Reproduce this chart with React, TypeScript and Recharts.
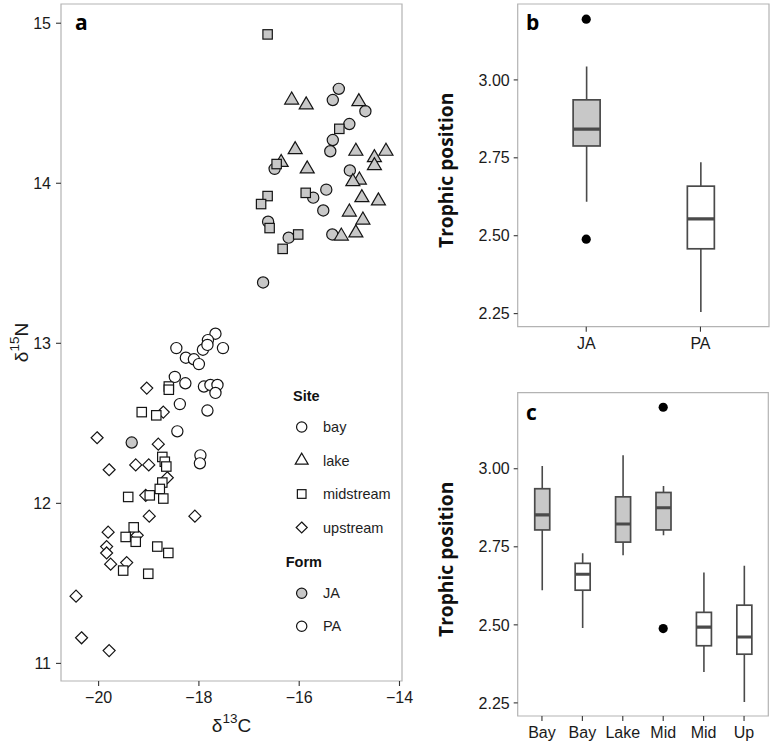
import React from 'react';
import {
  ScatterChart,
  Scatter,
  ComposedChart,
  Bar,
  XAxis,
  YAxis,
  Legend,
  ReferenceArea,
  Label,
} from 'recharts';

// ---------- Panel a: stable isotopes [δ13C, δ15N] ----------
const jaBay: [number, number][] = [
  [-15.21, 14.59], [-15.33, 14.52], [-14.68, 14.45], [-15.0, 14.37], [-15.33, 14.27],
  [-15.38, 14.2], [-16.49, 14.09], [-14.99, 14.08], [-15.46, 13.96], [-15.72, 13.91],
  [-15.52, 13.83], [-16.62, 13.76], [-15.34, 13.68], [-16.21, 13.66], [-16.72, 13.38],
  [-19.34, 12.38],
];
const jaLake: [number, number][] = [
  [-16.15, 14.52], [-15.86, 14.49], [-14.81, 14.51], [-16.08, 14.21], [-16.36, 14.13],
  [-15.84, 14.09], [-14.87, 14.2], [-14.27, 14.2], [-14.5, 14.16], [-14.5, 14.11],
  [-14.8, 14.02], [-14.93, 14.01], [-14.75, 13.91], [-14.42, 13.89], [-15.0, 13.82],
  [-14.73, 13.77], [-14.87, 13.69], [-15.16, 13.67],
];
const jaMidstream: [number, number][] = [
  [-16.63, 14.93], [-15.2, 14.34], [-16.45, 14.12], [-16.63, 13.92], [-16.76, 13.87],
  [-15.87, 13.94], [-16.59, 13.72], [-16.02, 13.68], [-16.33, 13.59],
];
const paBay: [number, number][] = [
  [-17.67, 13.06], [-17.82, 13.02], [-17.92, 12.96], [-17.83, 12.99], [-18.45, 12.97],
  [-17.52, 12.97], [-18.26, 12.91], [-18.1, 12.9], [-18.0, 12.87], [-18.48, 12.79],
  [-18.27, 12.75], [-17.9, 12.73], [-17.77, 12.74], [-17.63, 12.74], [-17.67, 12.69],
  [-18.38, 12.62], [-17.83, 12.58], [-18.43, 12.45], [-17.97, 12.3], [-17.98, 12.25],
];
const paMidstream: [number, number][] = [
  [-18.6, 12.73], [-18.6, 12.71], [-19.14, 12.57], [-18.85, 12.55], [-18.73, 12.29],
  [-18.68, 12.26], [-18.65, 12.23], [-18.73, 12.13], [-18.78, 12.09], [-18.98, 12.05],
  [-18.71, 12.03], [-19.41, 12.04], [-19.3, 11.85], [-19.46, 11.79], [-19.26, 11.76],
  [-18.83, 11.73], [-18.61, 11.69], [-19.51, 11.58], [-19.01, 11.56],
];
const paUpstream: [number, number][] = [
  [-19.04, 12.72], [-18.71, 12.57], [-20.03, 12.41], [-18.81, 12.37], [-19.79, 12.21],
  [-19.26, 12.24], [-19.0, 12.24], [-18.63, 12.16], [-19.06, 12.05], [-18.99, 11.92],
  [-18.08, 11.92], [-19.81, 11.82], [-19.23, 11.8], [-19.84, 11.73], [-19.84, 11.69],
  [-19.76, 11.62], [-19.44, 11.63], [-20.45, 11.42], [-20.34, 11.16], [-19.79, 11.08],
];
const d13cTicks = [-20, -18, -16, -14];
const d15nTicks = [11, 12, 13, 14, 15];
const siteLegend = ['bay', 'lake', 'midstream', 'upstream'];
const formLegend = ['JA', 'PA'];

// ---------- Panel b: trophic position by form ----------
const formCategories = ['JA', 'PA'];
const formLow = [2.609, 2.255];
const formQ1 = [2.788, 2.458];
const formMedian = [2.842, 2.554];
const formQ3 = [2.936, 2.659];
const formHigh = [3.043, 2.736];
const formOutliers: number[][] = [[3.195, 2.489], []];

// ---------- Panel c: trophic position by form x site ----------
const siteCategories = ['Bay', 'Bay', 'Lake', 'Mid', 'Mid', 'Up'];
const siteForms = ['JA', 'PA', 'JA', 'JA', 'PA', 'PA'];
const siteLow = [2.611, 2.49, 2.723, 2.787, 2.349, 2.253];
const siteQ1 = [2.804, 2.611, 2.765, 2.804, 2.433, 2.406];
const siteMedian = [2.852, 2.662, 2.823, 2.875, 2.493, 2.461];
const siteQ3 = [2.936, 2.697, 2.91, 2.924, 2.54, 2.563];
const siteHigh = [3.009, 2.729, 3.043, 2.945, 2.668, 2.689];
const siteOutliers: number[][] = [[], [], [], [3.197, 2.488], [], []];
const tpTicks = [2.25, 2.5, 2.75, 3.0];

// ---------- styling ----------
const FONT = '"Liberation Sans", Arial, Helvetica, sans-serif';
const BOLD_FONT = '"Open Sans", "Liberation Sans", sans-serif';
const JA_FILL = '#c8c8c8';
const PA_FILL = '#ffffff';
const POINT_STROKE = '#141414';
const BOX_LINE = '#4a4a4a';
const BORDER = '#b3b3b3';
const TICK_LINE = { stroke: '#333333', strokeWidth: 1.1 };
const TICK_TEXT = { fill: '#1a1a1a', fontSize: 16, fontFamily: FONT };

const toPoints = (arr: [number, number][]) => arr.map(([x, y]) => ({ x, y }));
const minus = (v: number) => String(v).replace('-', '\u2212');

function Marker({ cx, cy, kind, fill, k = 1 }: any) {
  const common = { fill, stroke: POINT_STROKE, strokeWidth: 1.2 };
  if (kind === 'circle') return <circle cx={cx} cy={cy} r={5.6 * k} {...common} />;
  if (kind === 'square') {
    const h = 4.7 * k;
    return <rect x={cx - h} y={cy - h} width={2 * h} height={2 * h} {...common} />;
  }
  if (kind === 'triangle') {
    const w = 7 * k;
    const ht = 12 * k;
    const pts = `${cx},${cy - (ht * 2) / 3} ${cx - w},${cy + ht / 3} ${cx + w},${cy + ht / 3}`;
    return <polygon points={pts} {...common} strokeLinejoin="miter" />;
  }
  const r = 6 * k;
  const pts = `${cx},${cy - r} ${cx + r},${cy} ${cx},${cy + r} ${cx - r},${cy}`;
  return <polygon points={pts} {...common} />;
}

const shapeOf = (kind: string, fill: string) => (p: any) => (
  <Marker cx={p.cx} cy={p.cy} kind={kind} fill={fill} />
);

function LegendA() {
  const kinds = ['circle', 'triangle', 'square', 'diamond'];
  const textStyle = { fontFamily: FONT, fontSize: 14.5, fill: '#1e1e1e' };
  const titleStyle = { fontFamily: FONT, fontSize: 14.5, fontWeight: 700, fill: '#111' };
  return (
    <svg width={130} height={260} style={{ overflow: 'visible' }}>
      <text x={10} y={18} {...titleStyle}>Site</text>
      {siteLegend.map((s, i) => (
        <g key={s}>
          <Marker cx={18.7} cy={44 + i * 33.5} kind={kinds[i]} fill={PA_FILL} k={0.92} />
          <text x={40} y={44 + i * 33.5 + 5} {...textStyle}>{s}</text>
        </g>
      ))}
      <text x={2.7} y={184} {...titleStyle}>Form</text>
      {formLegend.map((f, i) => (
        <g key={f}>
          <Marker cx={18.7} cy={210.3 + i * 33} kind="circle" fill={i === 0 ? JA_FILL : PA_FILL} k={0.92} />
          <text x={40} y={210.3 + i * 33 + 5} {...textStyle}>{f}</text>
        </g>
      ))}
    </svg>
  );
}

function XLabelA({ viewBox }: any) {
  const cx = viewBox.x + viewBox.width / 2;
  const y = viewBox.y + 51;
  return (
    <text x={cx} y={y} textAnchor="middle" fontFamily={FONT} fontSize={19} fill="#1a1a1a">
      δ<tspan dy={-9} fontSize={13.5}>13</tspan><tspan dy={9}>C</tspan>
    </text>
  );
}

function YLabelA({ viewBox }: any) {
  const cx = viewBox.x + 2;
  const cy = viewBox.y + viewBox.height / 2;
  return (
    <text
      transform={`translate(${cx},${cy}) rotate(-90)`}
      textAnchor="middle"
      fontFamily={FONT}
      fontSize={19}
      fill="#1a1a1a"
    >
      δ<tspan dy={-9} fontSize={13.5}>15</tspan><tspan dy={9}>N</tspan>
    </text>
  );
}

function TrophicLabel({ viewBox }: any) {
  const cx = viewBox.x - 5;
  const cy = viewBox.y + viewBox.height / 2 + 5;
  return (
    <text
      transform={`translate(${cx},${cy}) rotate(-90)`}
      textAnchor="middle"
      fontFamily={BOLD_FONT}
      fontWeight={700}
      fontSize={19.2}
      fill="#111"
    >
      Trophic position
    </text>
  );
}

function BoxShape(props: any) {
  const { x, y, width, height, payload } = props;
  const [low, high] = payload.range;
  const top = Math.min(y, y + height);
  const ppu = Math.abs(height) / (high - low);
  const yOf = (v: number) => top + (high - v) * ppu;
  const cx = x + width / 2;
  const fill = payload.form === 'JA' ? JA_FILL : PA_FILL;
  return (
    <g>
      <line x1={cx} x2={cx} y1={yOf(high)} y2={yOf(payload.q3)} stroke={BOX_LINE} strokeWidth={1.6} />
      <line x1={cx} x2={cx} y1={yOf(payload.q1)} y2={yOf(low)} stroke={BOX_LINE} strokeWidth={1.6} />
      <rect
        x={x}
        y={yOf(payload.q3)}
        width={width}
        height={yOf(payload.q1) - yOf(payload.q3)}
        fill={fill}
        stroke={BOX_LINE}
        strokeWidth={1.7}
      />
      <line
        x1={x}
        x2={x + width}
        y1={yOf(payload.median)}
        y2={yOf(payload.median)}
        stroke={BOX_LINE}
        strokeWidth={3.2}
      />
    </g>
  );
}

const OutlierDot = (p: any) => <circle cx={p.cx} cy={p.cy} r={4.6} fill="#000" />;

function buildRows(forms: string[], low: number[], q1: number[], med: number[], q3: number[], high: number[]) {
  return low.map((_, i) => ({
    pos: i + 1,
    form: forms[i],
    range: [low[i], high[i]],
    q1: q1[i],
    median: med[i],
    q3: q3[i],
  }));
}
function buildOutliers(out: number[][]) {
  const rows: { pos: number; val: number }[] = [];
  out.forEach((vals, i) => vals.forEach((v) => rows.push({ pos: i + 1, val: v })));
  return rows;
}

const formRows = buildRows(formCategories, formLow, formQ1, formMedian, formQ3, formHigh);
const formOutlierRows = buildOutliers(formOutliers);
const siteRows = buildRows(siteForms, siteLow, siteQ1, siteMedian, siteQ3, siteHigh);
const siteOutlierRows = buildOutliers(siteOutliers);

const TP_DOMAIN: [number, number] = [2.208, 3.2436];

function BoxPanel({ rows, outliers, labels, width, height, margin, barSize }: any) {
  const n = labels.length;
  const xDomain: [number, number] = [0.4, n + 0.6];
  return (
    <ComposedChart width={width} height={height} data={rows} margin={margin}>
      <XAxis
        type="number"
        dataKey="pos"
        domain={xDomain}
        allowDataOverflow
        ticks={labels.map((_: string, i: number) => i + 1)}
        tickFormatter={(v: number) => labels[v - 1]}
        interval={0}
        height={30}
        axisLine={false}
        tickLine={TICK_LINE}
        tickSize={5}
        tickMargin={6}
        tick={TICK_TEXT}
      />
      <YAxis
        type="number"
        domain={TP_DOMAIN}
        allowDataOverflow
        ticks={tpTicks}
        tickFormatter={(v: number) => v.toFixed(2)}
        width={60}
        axisLine={false}
        tickLine={TICK_LINE}
        tickSize={4}
        tickMargin={4}
        tick={TICK_TEXT}
      >
        <Label content={TrophicLabel} />
      </YAxis>
      <ReferenceArea
        x1={xDomain[0]}
        x2={xDomain[1]}
        y1={TP_DOMAIN[0]}
        y2={TP_DOMAIN[1]}
        fill="none"
        stroke={BORDER}
        strokeWidth={1.2}
        ifOverflow="visible"
      />
      <Bar dataKey="range" barSize={barSize} shape={BoxShape} isAnimationActive={false} />
      <Scatter data={outliers} dataKey="val" shape={OutlierDot} isAnimationActive={false} />
    </ComposedChart>
  );
}

export default function App() {
  const xDomA: [number, number] = [-20.75, -13.95];
  const yDomA: [number, number] = [10.89, 15.12];
  return (
    <div style={{ position: 'absolute', left: 0, top: 0, width: 773, height: 747, background: '#fff' }}>
      <div style={{ position: 'absolute', left: 0, top: 0 }}>
        <ScatterChart width={420} height={747} margin={{ top: 4, right: 18, bottom: 26, left: 26 }}>
          <XAxis
            type="number"
            dataKey="x"
            domain={xDomA}
            allowDataOverflow
            ticks={d13cTicks}
            tickFormatter={minus}
            height={40}
            axisLine={false}
            tickLine={TICK_LINE}
            tickSize={5}
            tickMargin={6}
            tick={TICK_TEXT}
          >
            <Label content={XLabelA} />
          </XAxis>
          <YAxis
            type="number"
            dataKey="y"
            domain={yDomA}
            allowDataOverflow
            ticks={d15nTicks}
            width={35}
            axisLine={false}
            tickLine={TICK_LINE}
            tickSize={5}
            tickMargin={5}
            tick={TICK_TEXT}
          >
            <Label content={YLabelA} />
          </YAxis>
          <ReferenceArea
            x1={xDomA[0]}
            x2={xDomA[1]}
            y1={yDomA[0]}
            y2={yDomA[1]}
            fill="none"
            stroke={BORDER}
            strokeWidth={1.2}
            ifOverflow="visible"
          />
          <Scatter name="PA upstream" data={toPoints(paUpstream)} shape={shapeOf('diamond', PA_FILL)} isAnimationActive={false} />
          <Scatter name="PA midstream" data={toPoints(paMidstream)} shape={shapeOf('square', PA_FILL)} isAnimationActive={false} />
          <Scatter name="PA bay" data={toPoints(paBay)} shape={shapeOf('circle', PA_FILL)} isAnimationActive={false} />
          <Scatter name="JA bay" data={toPoints(jaBay)} shape={shapeOf('circle', JA_FILL)} isAnimationActive={false} />
          <Scatter name="JA lake" data={toPoints(jaLake)} shape={shapeOf('triangle', JA_FILL)} isAnimationActive={false} />
          <Scatter name="JA midstream" data={toPoints(jaMidstream)} shape={shapeOf('square', JA_FILL)} isAnimationActive={false} />
          <Legend
            layout="vertical"
            align="center"
            verticalAlign="middle"
            wrapperStyle={{ left: 283, top: 383, width: 130, height: 260 }}
            content={() => <LegendA />}
          />
        </ScatterChart>
      </div>
      <div style={{ position: 'absolute', left: 420, top: 0 }}>
        <BoxPanel
          rows={formRows}
          outliers={formOutlierRows}
          labels={formCategories}
          width={353}
          height={360}
          margin={{ top: 4, right: 4, bottom: 3.3, left: 37.7 }}
          barSize={27}
        />
      </div>
      <div style={{ position: 'absolute', left: 420, top: 360 }}>
        <BoxPanel
          rows={siteRows}
          outliers={siteOutlierRows}
          labels={siteCategories}
          width={353}
          height={387}
          margin={{ top: 32.7, right: 4.7, bottom: 1, left: 37.7 }}
          barSize={15}
        />
      </div>
      <svg
        width={773}
        height={747}
        style={{ position: 'absolute', left: 0, top: 0, pointerEvents: 'none' }}
      >
        <text x={75} y={29.5} fontFamily={BOLD_FONT} fontWeight={700} fontSize={21} fill="#000">a</text>
        <text x={526} y={30} fontFamily={BOLD_FONT} fontWeight={700} fontSize={21} fill="#000">b</text>
        <text x={526} y={420} fontFamily={BOLD_FONT} fontWeight={700} fontSize={21} fill="#000">c</text>
      </svg>
    </div>
  );
}
